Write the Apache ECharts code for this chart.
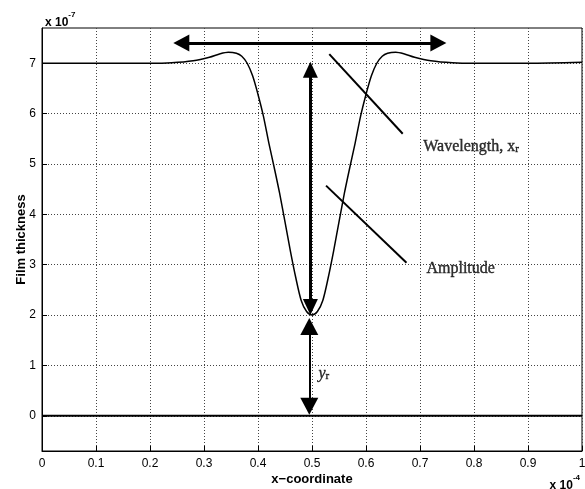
<!DOCTYPE html>
<html>
<head>
<meta charset="utf-8">
<script src="https://cdn.jsdelivr.net/npm/echarts@6/dist/echarts.min.js"></script>
<style>
  html, body { margin: 0; padding: 0; background: #fff; }
  #chart { width: 585px; height: 489px; }
</style>
</head>
<body>
<div id="chart"></div>
<script>
// film profile, x in units of 1e-4, thickness in units of 1e-7
const xCoord = [0, 0.1, 0.2, 0.24, 0.28, 0.31, 0.33, 0.345, 0.36, 0.37, 0.38, 0.39, 0.40, 0.41, 0.42, 0.43, 0.44, 0.45, 0.46, 0.47, 0.48, 0.49,
  0.50, 0.51, 0.52, 0.53, 0.54, 0.55, 0.56, 0.57, 0.58, 0.59, 0.60, 0.61, 0.62, 0.63, 0.64, 0.655, 0.67, 0.69, 0.72, 0.76, 0.8, 0.9, 1.0];
const thickness = [7.00, 7.00, 7.00, 7.01, 7.05, 7.12, 7.19, 7.22, 7.20, 7.14, 7.00, 6.75, 6.38, 5.95, 5.42, 4.93, 4.42, 3.85, 3.27, 2.74, 2.29, 2.07,
  2.00, 2.07, 2.29, 2.74, 3.27, 3.85, 4.42, 4.93, 5.42, 5.95, 6.38, 6.75, 7.00, 7.14, 7.20, 7.22, 7.19, 7.12, 7.05, 7.01, 7.00, 7.00, 7.02];
const substrate = [[0, 0], [1, 0]];

const yTicks = [0, 1, 2, 3, 4, 5, 6, 7];

// annotation geometry in data units
const wavelengthArrow = [[0.258, 7.40], [0.734, 7.40]];
const amplitudeArrow = [[0.497, 6.87], [0.497, 2.16]];
const yrArrow = [[0.495, 1.77], [0.495, 0.19]];
const wavelengthPointer = [[0.532, 7.18], [0.668, 5.60]];
const amplitudePointer = [[0.526, 4.57], [0.675, 3.04]];
const labels = [
  { pos: [0.706, 5.39], text: "{a|Wavelength, x}{s|r}" },
  { pos: [0.712, 2.95], text: "{a|Amplitude}" },
  { pos: [0.512, 0.87], text: "{i|y}{s|r}" },
];

const arrowPair = (pts, width, size) => [
  { coord: pts[0], symbol: "triangle", symbolSize: size, lineStyle: { width, color: "#000", type: "solid" } },
  { coord: pts[1], symbol: "triangle", symbolSize: size },
];
const plainPair = (pts) => [
  { coord: pts[0], symbol: "none", lineStyle: { width: 2, color: "#000", type: "solid" } },
  { coord: pts[1], symbol: "none" },
];

const serif = "'Liberation Serif', 'DejaVu Serif', serif";
const sans = "'Liberation Sans', Arial, Helvetica, sans-serif";

const chart = echarts.init(document.getElementById("chart"), null, { renderer: "canvas" });

const expRich = {
  a: { fontFamily: sans, fontSize: 12, color: "#000", verticalAlign: "bottom", lineHeight: 18 },
  b: { fontFamily: sans, fontSize: 8, color: "#000", verticalAlign: "top", lineHeight: 10 },
};
const darken = { textBorderColor: "#000", textBorderWidth: 0.4 };

chart.setOption({
  animation: false,
  backgroundColor: "#fff",
  title: [
    { text: "{a|x 10}{b|-7}", left: 40, top: 6, textStyle: { rich: expRich } },
    { text: "{a|x 10}{b|-4}", right: 0, top: 469, textStyle: { rich: expRich } },
  ],
  grid: {
    left: 42, right: 3, top: 28, bottom: 38,
    outerBoundsMode: "none",
    containLabel: false,
    show: true, borderColor: "#000", borderWidth: 1,
  },
  xAxis: {
    type: "value",
    min: 0,
    max: 1,
    interval: 0.1,
    name: "x\u2212coordinate",
    nameLocation: "middle",
    nameGap: 22,
    nameMoveOverlap: false,
    nameTextStyle: { fontFamily: sans, fontSize: 13, fontWeight: "bold", color: "#000" },
    axisLine: { show: true, onZero: false, lineStyle: { color: "#000" } },
    axisTick: { show: true, inside: true, length: 5, lineStyle: { color: "#000" } },
    axisLabel: { fontFamily: sans, fontSize: 12, color: "#000", margin: 7 },
    splitLine: { show: true, lineStyle: { color: "#444", type: [1, 2], width: 1 } },
  },
  yAxis: {
    type: "value",
    min: -0.7,
    max: 7.7,
    name: "Film thickness",
    nameLocation: "middle",
    nameGap: 14,
    nameMoveOverlap: false,
    nameTextStyle: { fontFamily: sans, fontSize: 13, fontWeight: "bold", color: "#000" },
    axisLine: { show: true, onZero: false, lineStyle: { color: "#000" } },
    axisTick: { show: true, inside: true, length: 5, customValues: yTicks, lineStyle: { color: "#000" } },
    axisLabel: { fontFamily: sans, fontSize: 12, color: "#000", margin: 6, customValues: yTicks },
    splitLine: { show: true, lineStyle: { color: "#444", type: [1, 2], width: 1 } },
  },
  series: [
    {
      name: "profile",
      type: "line",
      data: xCoord.map((x, i) => [x, thickness[i]]),
      smooth: 0.3,
      symbol: "none",
      lineStyle: { color: "#000", width: 1.5 },
      markLine: {
        silent: true,
        symbolSize: [15, 16],
        itemStyle: { color: "#000" },
        label: { show: false },
        data: [
          arrowPair(wavelengthArrow, 3, [17, 16]),
          arrowPair(amplitudeArrow, 3, [15, 16]),
          arrowPair(yrArrow, 2, [18, 17]),
          plainPair(wavelengthPointer),
          plainPair(amplitudePointer),
        ],
      },
    },
    {
      name: "substrate",
      type: "line",
      data: substrate,
      symbol: "none",
      lineStyle: { color: "#000", width: 2 },
    },
    {
      name: "labels",
      type: "scatter",
      symbolSize: 0,
      itemStyle: { color: "#000" },
      data: labels.map((l) => ({ value: l.pos, text: l.text })),
      label: {
        show: true,
        position: "right",
        distance: 0,
        color: "#000",
        formatter: (p) => p.data.text,
        rich: {
          a: { fontFamily: serif, fontSize: 16, color: "#000", verticalAlign: "bottom", lineHeight: 20, ...darken },
          i: { fontFamily: serif, fontSize: 16, fontStyle: "italic", color: "#000", verticalAlign: "bottom", lineHeight: 20, ...darken },
          s: { fontFamily: serif, fontSize: 11, color: "#000", verticalAlign: "bottom", lineHeight: 14, ...darken },
        },
      },
    },
  ],
});
</script>
</body>
</html>
